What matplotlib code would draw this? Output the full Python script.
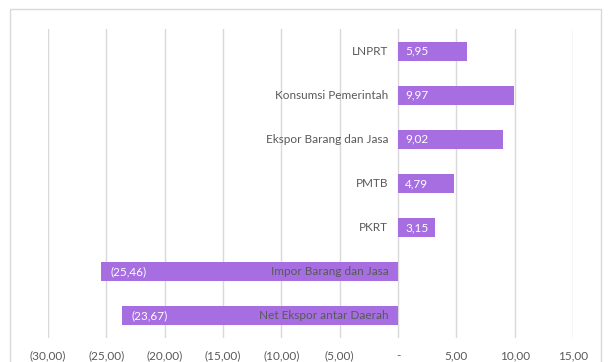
import matplotlib.pyplot as plt
import numpy as np
from matplotlib.patches import Rectangle

# kontribusi / pertumbuhan komponen PDRB (persen)
categories = ["LNPRT", "Konsumsi Pemerintah", "Ekspor Barang dan Jasa", "PMTB", "PKRT",
              "Impor Barang dan Jasa", "Net Ekspor antar Daerah"]
values = [5.95, 9.97, 9.02, 4.79, 3.15, -25.46, -23.67]
xticks = [-30, -25, -20, -15, -10, -5, 0, 5, 10, 15]

bar_color = "#A66EE0"
text_color = "#595959"
grid_color = "#D9D9D9"


def fmt(v, dec=2):
    s = f"{abs(v):.{dec}f}".replace(".", ",")
    if v < 0:
        return f"({s})"
    if v == 0:
        return "-"
    return s


plt.rcParams['font.family'] = ['Lato', 'DejaVu Sans']

fig = plt.figure(figsize=(6.08, 3.62), dpi=100)
ax = fig.add_axes([48 / 608, 1 - 338 / 362, (573 - 48) / 608, (338 - 29) / 362])

# outer chart frame
fig.patches.append(Rectangle((10 / 608, -0.05), 591 / 608, 1.05 - 9 / 362,
                             transform=fig.transFigure, fill=False,
                             edgecolor=grid_color, linewidth=1))

y = np.arange(len(categories))
ax.barh(y, values, height=0.43, color=bar_color, zorder=2)

for yi, name, v in zip(y, categories, values):
    # category name sits just left of the zero line
    ax.annotate(name, (0, yi), xytext=(-7, 0), textcoords="offset points",
                ha="right", va="center", fontsize=8.5, color=text_color, zorder=3)
    if v >= 0:
        ax.annotate(fmt(v), (0, yi), xytext=(5, 0), textcoords="offset points",
                    ha="left", va="center", fontsize=8.5, color="white", zorder=3)
    else:
        ax.annotate(fmt(v), (v, yi), xytext=(7, 0), textcoords="offset points",
                    ha="left", va="center", fontsize=8.5, color="white", zorder=3)

ax.set_xlim(-30, 15)
ax.set_ylim(len(categories) - 0.5, -0.5)
ax.set_xticks(xticks)
ax.set_xticklabels([fmt(t) for t in xticks], fontsize=8.5, color=text_color)
ax.set_yticks([])
ax.tick_params(axis="x", length=0, pad=9)
ax.grid(axis="x", color=grid_color, linewidth=1, zorder=0)
ax.set_axisbelow(True)
for s in ax.spines.values():
    s.set_visible(False)

fig.savefig("out.png", dpi=100)
